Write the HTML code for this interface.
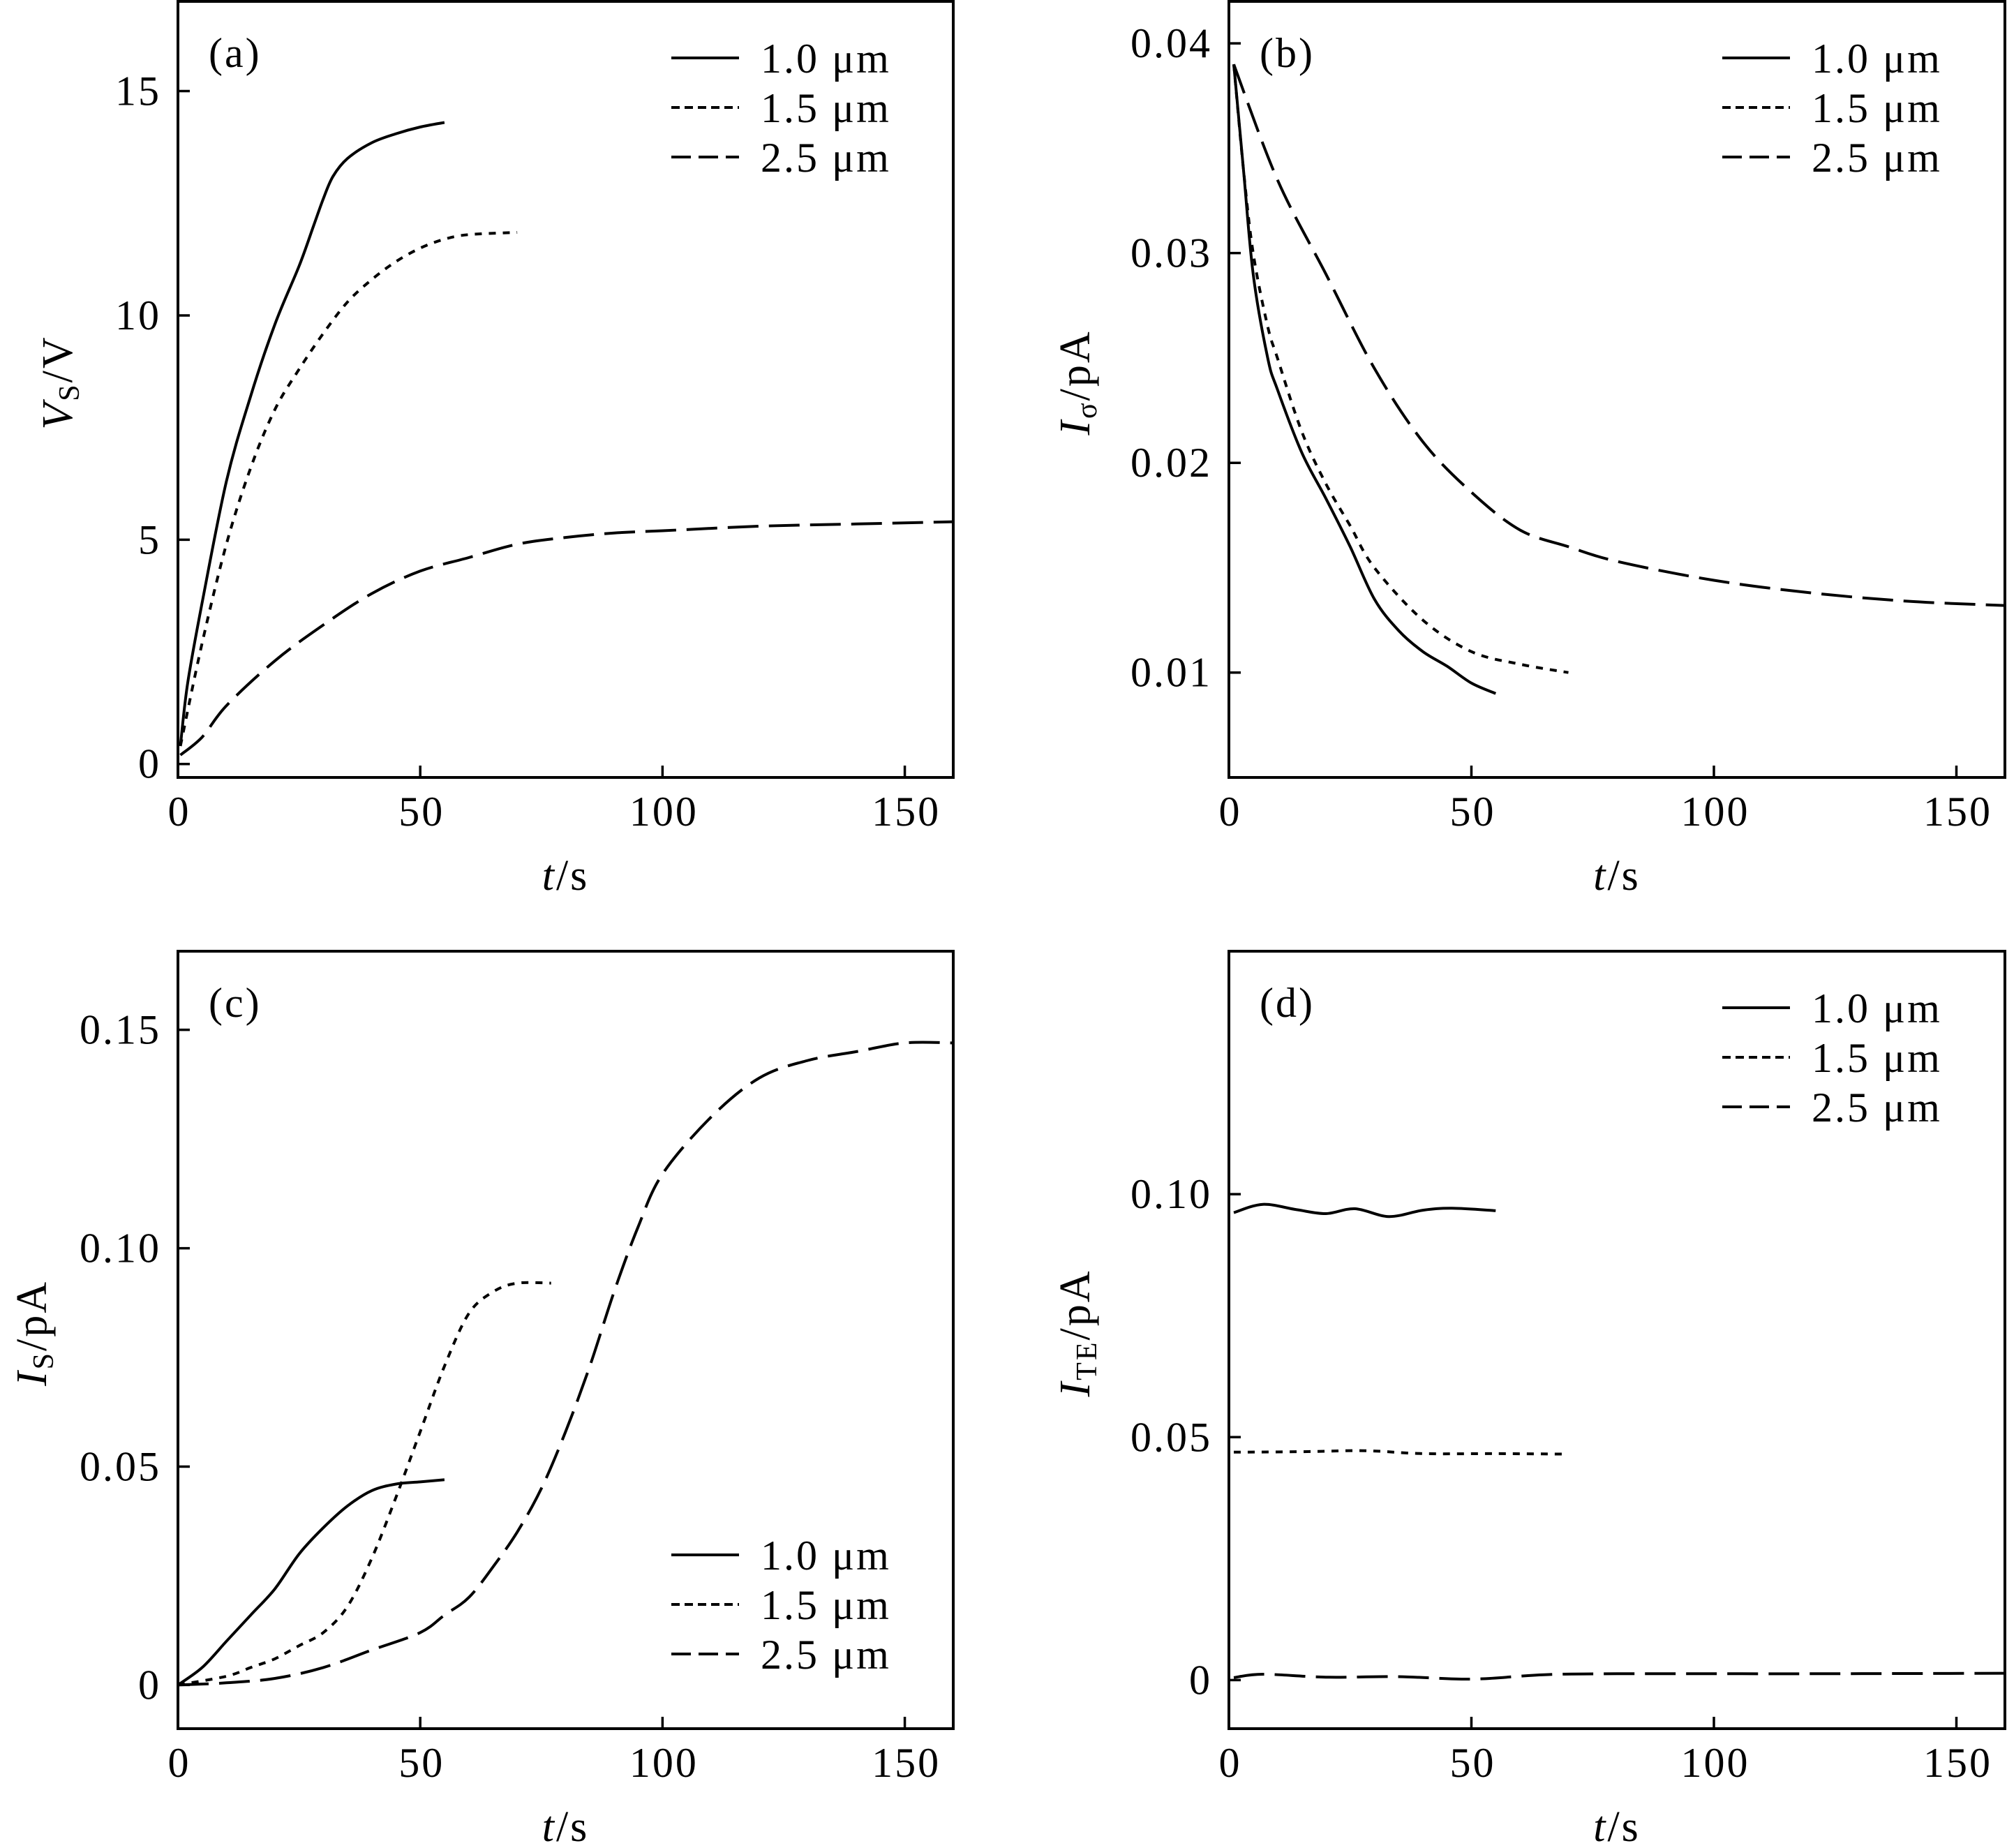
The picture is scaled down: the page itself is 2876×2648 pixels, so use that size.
<!DOCTYPE html>
<html><head><meta charset="utf-8">
<style>
html,body{margin:0;padding:0;background:#fff;}
svg{display:block;font-family:"Liberation Serif","DejaVu Serif",serif;}
svg text{letter-spacing:3px;}
</style></head>
<body>
<svg id="fig" width="2876" height="2648" viewBox="0 0 2876 2648" xmlns="http://www.w3.org/2000/svg">
<rect x="0" y="0" width="2876" height="2648" fill="#fff"/>
</svg>
<script>
// ---------- Panel (a): V_S vs t ----------
const aT10 = [0.5, 2, 5, 10, 15, 20, 25, 28, 30, 32, 35, 40, 45, 50, 55];
const aV10 = [0.4, 1.8, 3.6, 6.3, 8.2, 9.8, 11.1, 12.0, 12.6, 13.1, 13.5, 13.85, 14.05, 14.2, 14.3];
const aT15 = [0.5, 5, 10, 15, 20, 25, 30, 35, 40, 45, 50, 55, 60, 70];
const aV15 = [0.4, 2.7, 4.9, 6.6, 7.9, 8.8, 9.6, 10.3, 10.8, 11.2, 11.5, 11.7, 11.8, 11.85];
const aT25 = [0.5, 5, 10, 20, 30, 40, 50, 60, 70, 80, 90, 100, 120, 140, 160];
const aV25 = [0.2, 0.6, 1.3, 2.3, 3.1, 3.8, 4.3, 4.6, 4.9, 5.05, 5.15, 5.2, 5.3, 5.35, 5.4];
const aYTicks = [0, 5, 10, 15];
const aYTickLabels = ["0", "5", "10", "15"];

// ---------- Panel (b): I_sigma vs t ----------
const bT10 = [1, 3, 5, 8, 10, 15, 20, 25, 30, 35, 40, 45, 50, 55];
const bI10 = [0.039, 0.034, 0.029, 0.025, 0.0235, 0.0205, 0.0183, 0.016, 0.0135, 0.012, 0.011, 0.0103, 0.0095, 0.009];
const bT15 = [1, 3, 5, 8, 10, 15, 20, 25, 30, 40, 50, 60, 70];
const bI15 = [0.039, 0.034, 0.030, 0.0265, 0.025, 0.0215, 0.019, 0.017, 0.015, 0.0125, 0.011, 0.0104, 0.010];
const bT25 = [1, 10, 20, 30, 40, 50, 60, 70, 80, 100, 120, 140, 160];
const bI25 = [0.039, 0.0335, 0.029, 0.0245, 0.021, 0.0186, 0.0168, 0.016, 0.0153, 0.0144, 0.0138, 0.0134, 0.0132];
const bYTicks = [0.01, 0.02, 0.03, 0.04];
const bYTickLabels = ["0.01", "0.02", "0.03", "0.04"];

// ---------- Panel (c): I_S vs t ----------
const cT10 = [0, 5, 10, 15, 20, 25, 30, 35, 40, 45, 50, 55];
const cI10 = [0, 0.004, 0.010, 0.016, 0.022, 0.030, 0.036, 0.041, 0.0445, 0.046, 0.0465, 0.047];
const cT15 = [0, 10, 15, 20, 25, 30, 35, 40, 45, 50, 55, 60, 65, 70, 77];
const cI15 = [0, 0.002, 0.004, 0.006, 0.009, 0.012, 0.018, 0.029, 0.043, 0.058, 0.073, 0.085, 0.090, 0.092, 0.092];
const cT25 = [0, 10, 20, 30, 40, 50, 55, 60, 65, 70, 75, 80, 85, 90, 95, 100, 110, 120, 130, 140, 150, 160];
const cI25 = [0, 0.0005, 0.0015, 0.004, 0.008, 0.012, 0.016, 0.020, 0.027, 0.035, 0.045, 0.058, 0.073, 0.090, 0.105, 0.117, 0.130, 0.139, 0.143, 0.145, 0.147, 0.147];
const cYTicks = [0, 0.05, 0.10, 0.15];
const cYTickLabels = ["0", "0.05", "0.10", "0.15"];

// ---------- Panel (d): I_TE vs t ----------
const dT10 = [1, 7, 14, 20, 26, 33, 40, 46, 55];
const dI10 = [0.0962, 0.0979, 0.0968, 0.0960, 0.0970, 0.0954, 0.0967, 0.0971, 0.0966];
const dT15 = [1, 15, 28, 40, 55, 70];
const dI15 = [0.0469, 0.0470, 0.0472, 0.0466, 0.0466, 0.0465];
const dT25 = [1, 7, 20, 35, 50, 65, 80, 120, 160];
const dI25 = [0.0005, 0.0012, 0.0006, 0.0007, 0.0002, 0.0011, 0.0013, 0.0013, 0.0014];
const dYTicks = [0, 0.05, 0.10];
const dYTickLabels = ["0", "0.05", "0.10"];

const xTicks = [0, 50, 100, 150];
const xTickLabels = ["0", "50", "100", "150"];
const seriesNames = ["1.0 μm", "1.5 μm", "2.5 μm"];

const NS = "http://www.w3.org/2000/svg";
const svg = document.getElementById("fig");
function mk(tag, attrs, parent) {
  const e = document.createElementNS(NS, tag);
  for (const k in attrs) e.setAttribute(k, attrs[k]);
  (parent || svg).appendChild(e);
  return e;
}
function smoothPath(pts) {
  let d = "M" + pts[0][0].toFixed(1) + "," + pts[0][1].toFixed(1);
  for (let i = 0; i < pts.length - 1; i++) {
    const p0 = pts[Math.max(0, i - 1)], p1 = pts[i], p2 = pts[i + 1], p3 = pts[Math.min(pts.length - 1, i + 2)];
    const c1x = p1[0] + (p2[0] - p0[0]) / 6, c1y = p1[1] + (p2[1] - p0[1]) / 6;
    const c2x = p2[0] - (p3[0] - p1[0]) / 6, c2y = p2[1] - (p3[1] - p1[1]) / 6;
    d += " C" + c1x.toFixed(1) + "," + c1y.toFixed(1) + " " + c2x.toFixed(1) + "," + c2y.toFixed(1) + " " + p2[0].toFixed(1) + "," + p2[1].toFixed(1);
  }
  return d;
}
const plotDash = ["", "10 10", "44 15"];
const legDash = ["", "12 7", "28 11"];

const panels = [
  {id:"a", L:255, R:1366, T:2, B:1114, ymin:-0.3, ymax:17, yt:aYTicks, ytl:aYTickLabels,
   series:[[aT10,aV10],[aT15,aV15],[aT25,aV25]], legendY:83, ylab:["V","S","/V"], ylabX:83},
  {id:"b", L:1761, R:2873, T:2, B:1114, ymin:0.005, ymax:0.042, yt:bYTicks, ytl:bYTickLabels,
   series:[[bT10,bI10],[bT15,bI15],[bT25,bI25]], legendY:83, ylab:["I","σ","/pA"], ylabX:1541},
  {id:"c", L:255, R:1366, T:1363, B:2477, ymin:-0.01, ymax:0.168, yt:cYTicks, ytl:cYTickLabels,
   series:[[cT10,cI10],[cT15,cI15],[cT25,cI25]], legendY:2228, ylab:["I","S","/pA"], ylabX:46},
  {id:"d", L:1761, R:2873, T:1363, B:2477, ymin:-0.01, ymax:0.15, yt:dYTicks, ytl:dYTickLabels,
   series:[[dT10,dI10],[dT15,dI15],[dT25,dI25]], legendY:1444, ylab:["I","TE","/pA"], ylabX:1541}
];

panels.forEach(p => {
  const g = mk("g", {});
  
  
  const xs = v => p.L + (v - 0) / 160 * (p.R - p.L);
  const ys = v => p.B - (v - p.ymin) / (p.ymax - p.ymin) * (p.B - p.T);
  const clipId = "clip-" + p.id;
  const cp = mk("clipPath", {id: clipId}, g);
  mk("rect", {x:p.L, y:p.T, width:p.R - p.L, height:p.B - p.T}, cp);

  const names = ["series-1-0um", "series-1-5um", "series-2-5um"];
  p.series.forEach((s, i) => {
    const pts = s[0].map((t, k) => [xs(t), ys(s[1][k])]);
    const path = mk("path", {d: smoothPath(pts), fill:"none", stroke:"#000", "stroke-width":4, "clip-path":"url(#" + clipId + ")"}, g);
    if (plotDash[i]) path.setAttribute("stroke-dasharray", plotDash[i]);
    
    
  });

  const fr = mk("rect", {x:p.L, y:p.T, width:p.R - p.L, height:p.B - p.T, fill:"none", stroke:"#000", "stroke-width":4}, g);
  
  

  xTicks.forEach((t, i) => {
    const x = xs(t);
    const tk = mk("line", {x1:x, x2:x, y1:p.B, y2:p.B - 17, stroke:"#000", "stroke-width":3.5}, g);
    
    
    const tl = mk("text", {x:x + 2, y:p.B + 69, "font-size":60, "text-anchor":"middle"}, g);
    tl.textContent = xTickLabels[i];
    
    
  });
  p.yt.forEach((v, i) => {
    const y = ys(v);
    const tk = mk("line", {x1:p.L, x2:p.L + 17, y1:y, y2:y, stroke:"#000", "stroke-width":3.5}, g);
    
    
    const tl = mk("text", {x:p.L - 24, y:y + 20, "font-size":60, "text-anchor":"end"}, g);
    tl.textContent = p.ytl[i];
    
    
  });

  const pl = mk("text", {x:p.L + 44, y:p.T + 94, "font-size":60}, g);
  pl.textContent = "(" + p.id + ")";
  
  

  const lg = mk("g", {}, g);
  
  
  const lx = p.L + 707;
  seriesNames.forEach((n, i) => {
    const y = p.legendY + i * 71;
    const ln = mk("line", {x1:lx, x2:lx + 97, y1:y, y2:y, stroke:"#000", "stroke-width":4}, lg);
    if (legDash[i]) ln.setAttribute("stroke-dasharray", legDash[i]);
    
    
    const tx = mk("text", {x:lx + 128, y:y + 21, "font-size":60}, lg);
    tx.textContent = n;
    
    
  });

  const xt = mk("text", {x:(p.L + p.R) / 2, y:p.B + 161, "font-size":62, "text-anchor":"middle"}, g);
  xt.innerHTML = '<tspan font-style="italic">t</tspan>/s';
  
  

  const cy = (p.T + p.B) / 2 - 10;
  const yt = mk("text", {x:0, y:0, "font-size":62, "text-anchor":"middle",
     transform:"translate(" + (p.ylabX + 20) + "," + cy + ") rotate(-90)"}, g);
  yt.innerHTML = '<tspan font-style="italic">' + p.ylab[0] + '</tspan><tspan font-size="42" dy="10">' + p.ylab[1] + '</tspan><tspan dy="-10">' + p.ylab[2] + '</tspan>';
  
  
});
</script>
</body></html>
